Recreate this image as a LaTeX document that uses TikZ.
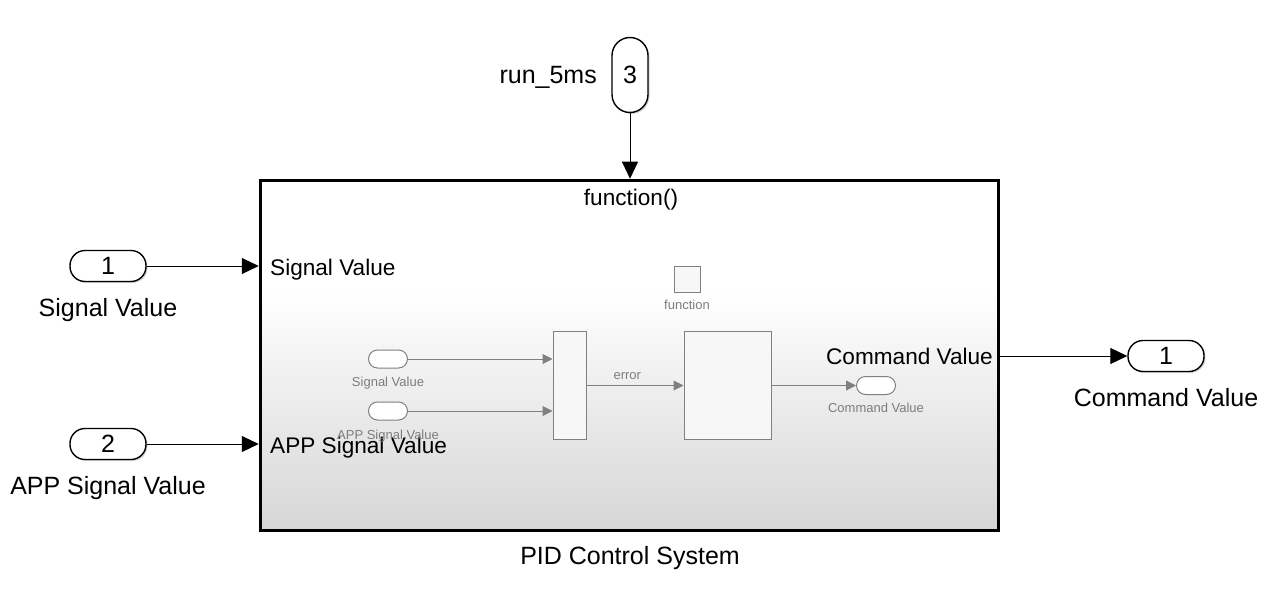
\documentclass[tikz,border=0pt]{standalone}
\usepackage{fontspec}
\setmainfont{Liberation Sans}
\usetikzlibrary{arrows.meta,shadows}
\definecolor{innergray}{RGB}{125,125,125}
\definecolor{blockgray}{RGB}{128,128,128}
\definecolor{shadebottom}{RGB}{214,214,214}
\begin{document}
\begin{tikzpicture}[x=1pt,y=-1pt,
  big/.style={font=\fontsize{25}{30}\selectfont, inner sep=0pt},
  mid/.style={font=\fontsize{22.6}{27}\selectfont, inner sep=0pt},
  small/.style={font=\fontsize{13}{15}\selectfont, text=innergray, inner sep=0pt},
  port/.style={draw=black, line width=1.4pt, fill=white, rounded corners=15pt,
    minimum width=76pt, minimum height=31pt, inner sep=0pt,
    font=\fontsize{25}{30}\selectfont,
    drop shadow={shadow xshift=1.5pt, shadow yshift=-1.5pt, opacity=0.35}},
  vport/.style={draw=black, line width=1.4pt, fill=white, rounded corners=18pt,
    minimum width=36pt, minimum height=75pt, inner sep=0pt,
    font=\fontsize{25}{30}\selectfont,
    drop shadow={shadow xshift=1.5pt, shadow yshift=-1.5pt, opacity=0.35}},
  sport/.style={draw=blockgray, line width=1pt, fill=white, rounded corners=9pt,
    minimum width=39pt, minimum height=18pt, inner sep=0pt},
  iblock/.style={draw=blockgray, line width=1pt, fill=white!97!black, inner sep=0pt},
  wire/.style={draw=black, line width=1pt, -{Triangle[length=17pt,width=16pt]}},
  iwire/.style={draw=blockgray, line width=1pt, -{Triangle[length=10pt,width=10pt]}},
  iline/.style={draw=blockgray, line width=1pt}
]
\useasboundingbox (0,0) rectangle (1284,604);

% subsystem background
\fill[white] (260.5,180.5) rectangle (998.5,290);
\shade[top color=white, bottom color=shadebottom] (260.5,289.5) rectangle (998.5,530.5);
\node[draw=black, line width=3.5pt, minimum width=738pt, minimum height=350pt, inner sep=0pt]
  (sys) at (629.5,355.5) {};

\node[mid, anchor=base] (fn) at (631,205) {function()};
\node[mid, anchor=base west] (pin1) at (270,275) {Signal Value};
\node[mid, anchor=base west] (pin2) at (270,453) {APP Signal Value};
\node[mid, anchor=base east] (pout1) at (993,364) {Command Value};
\node[big, anchor=base] (sysname) at (630,564) {PID Control System};

% outer ports
\node[port] (in1) at (108,266) {1};
\node[big, anchor=base] (in1lbl) at (108,316) {Signal Value};
\node[port] (in2) at (108,444) {2};
\node[big, anchor=base] (in2lbl) at (108,494) {APP Signal Value};
\node[vport] (in3) at (630,75) {3};
\node[big, anchor=base east] (in3lbl) at (597,84) {run\_5ms};
\node[port] (out1) at (1166,356) {1};
\node[big, anchor=base] (out1lbl) at (1166,406) {Command Value};

\draw[wire] (in1.east) -- (in1.east -| sys.west);
\draw[wire] (in2.east) -- (in2.east -| sys.west);
\draw[wire] (in3.south) -- (sys.north -| in3.south);
\draw[wire] (out1.west -| sys.east) -- (out1.west);

% inner content
\node[iblock, minimum width=26pt, minimum height=26pt] (trig) at (687,279) {};
\node[small, anchor=base] (triglbl) at (687,309) {function};
\node[sport] (sin1) at (388,359) {};
\node[small, anchor=base] (sin1lbl) at (388,386) {Signal Value};
\node[sport] (sin2) at (388,411) {};
\node[small, anchor=base] (sin2lbl) at (388,439) {APP Signal Value};
\node[iblock, minimum width=33pt, minimum height=108pt] (mux) at (569.5,385.5) {};
\node[iblock, minimum width=87pt, minimum height=108pt] (pid) at (727.5,385.5) {};
\node[sport] (sout) at (876,385.5) {};
\node[small, anchor=base] (soutlbl) at (876,412) {Command Value};

\draw[iwire] (sin1.east) -- (sin1.east -| mux.west);
\draw[iwire] (sin2.east) -- (sin2.east -| mux.west);
\draw[iwire] (mux.east |- pid.west) -- node[small, above=5pt, pos=0.42] (err) {error} (pid.west);
\draw[iwire] (pid.east) -- (sout.west);
\end{tikzpicture}
\end{document}
